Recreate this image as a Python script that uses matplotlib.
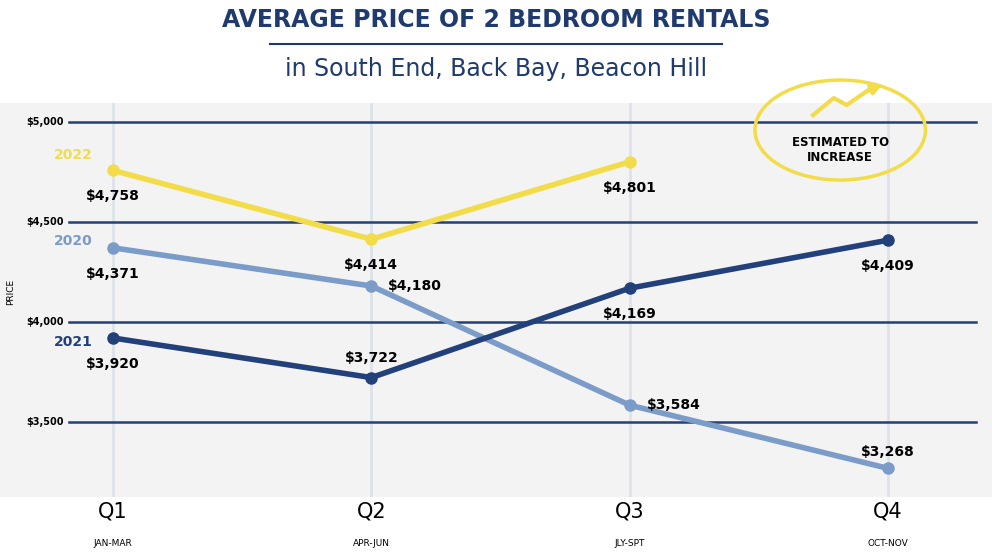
import matplotlib.pyplot as plt
from matplotlib.patches import Ellipse

quarters = ["Q1", "Q2", "Q3", "Q4"]
months = ["JAN-MAR", "APR-JUN", "JLY-SPT", "OCT-NOV"]
y2020 = [4371, 4180, 3584, 3268]
y2021 = [3920, 3722, 4169, 4409]
y2022 = [4758, 4414, 4801]
yticks = [3500, 4000, 4500, 5000]

navy = "#22407a"
light = "#7b9bc9"
yellow = "#f2dc4a"
title_c = "#1f3a6e"

fig = plt.figure(figsize=(9.92, 5.54), dpi=100)
ax = fig.add_axes([0, 0.103, 1, 0.711])
ax.set_facecolor("#f3f3f3")
ax.set_xlim(-0.4375, 3.4026)
ax.set_ylim(3125, 5095)
for s in ax.spines.values():
    s.set_visible(False)
ax.set_xticks([])
ax.set_yticks([])

for i in range(4):
    ax.axvline(i, color="#dde2ea", lw=2, zorder=1)
for v in yticks:
    ax.plot([-0.17, 3.34], [v, v], color=navy, lw=1.8, zorder=2)
    ax.text(-0.263, v, f"${v:,}", fontsize=7, fontweight="bold", ha="center", va="center")
ax.text(-0.395, 4150, "PRICE", rotation=90, fontsize=6.5, ha="center", va="center")

def draw(vals, color, offs):
    xs = list(range(len(vals)))
    ax.plot(xs, vals, color=color, lw=4, marker="o", ms=8, zorder=3)
    for x, v, (dx, dy) in zip(xs, vals, offs):
        ax.text(x + dx, v + dy, f"${v:,}", fontsize=10, fontweight="bold", ha="center", va="center", zorder=4)

draw(y2020, light, [(0.0, -130), (0.17, 0), (0.17, 0), (0.0, 80)])
draw(y2021, navy, [(0.0, -130), (0.0, 100), (0.0, -130), (0.0, -130)])
draw(y2022, yellow, [(0.0, -130), (0.0, -130), (0.0, -130)])

ax.text(-0.155, 4835, "2022", color=yellow, fontsize=10, fontweight="bold", ha="center", va="center")
ax.text(-0.155, 4405, "2020", color=light, fontsize=10, fontweight="bold", ha="center", va="center")
ax.text(-0.155, 3900, "2021", color=navy, fontsize=10, fontweight="bold", ha="center", va="center")

ax.add_patch(Ellipse((2.815, 4960), 0.66, 500, fill=False, ec=yellow, lw=2.5, zorder=5, clip_on=False))
ax.text(2.815, 4860, "ESTIMATED TO\nINCREASE", fontsize=8.5, fontweight="bold", ha="center", va="center", zorder=6)
ax.plot([2.71, 2.79, 2.84, 2.93], [5035, 5120, 5085, 5165], color=yellow, lw=3, zorder=6, clip_on=False)
ax.annotate("", xy=(2.99, 5195), xytext=(2.91, 5150), arrowprops=dict(arrowstyle="-|>", color=yellow, lw=3, mutation_scale=15), annotation_clip=False, zorder=6)

for i, (q, m) in enumerate(zip(quarters, months)):
    fx = (113 + i * 258.3) / 992
    fig.text(fx, 1 - 512 / 554, q, fontsize=15, ha="center", va="center")
    fig.text(fx, 1 - 543 / 554, m, fontsize=6.5, ha="center", va="center")

fig.text(0.5, 1 - 20 / 554, "AVERAGE PRICE OF 2 BEDROOM RENTALS", fontsize=17, fontweight="bold", color=title_c, ha="center", va="center")
fig.add_artist(plt.Line2D([270 / 992, 722 / 992], [1 - 44 / 554] * 2, color=title_c, lw=1.5))
fig.text(0.5, 1 - 69 / 554, "in South End, Back Bay, Beacon Hill", fontsize=17, color=title_c, ha="center", va="center")

fig.savefig("out.png", dpi=100)
